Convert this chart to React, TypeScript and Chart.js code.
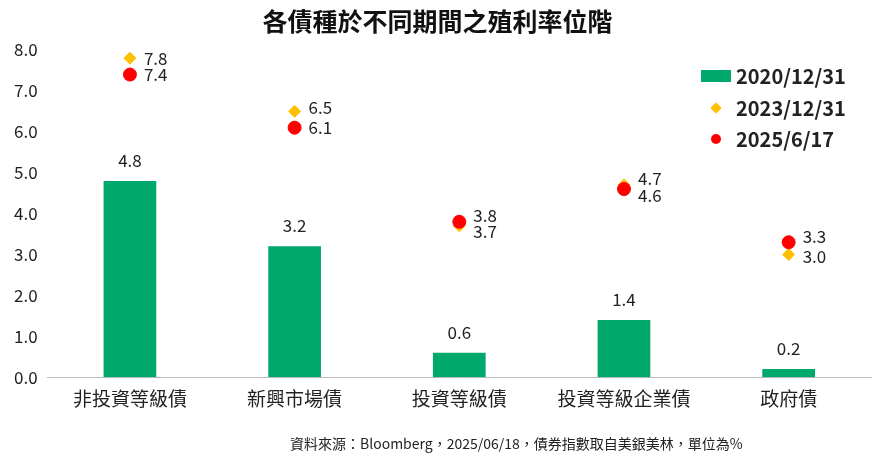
import React, { useEffect, useRef } from "react";
import { Chart, registerables } from "chart.js";
Chart.register(...registerables);

const categories = ["非投資等級債", "新興市場債", "投資等級債", "投資等級企業債", "政府債"];
const y2020 = [4.8, 3.2, 0.6, 1.4, 0.2];
const y2023 = [7.8, 6.5, 3.7, 4.7, 3.0];
const y2025 = [7.4, 6.1, 3.8, 4.6, 3.3];
// label vertical offsets (px) for point labels
const off2023 = [0, -4, 6, -6, 2];
const off2025 = [0, 0, -6, 6, -6];

const FONT = "'Noto Sans CJK TC', 'Noto Sans', sans-serif";

export default function App() {
  const ref = useRef<HTMLCanvasElement>(null);
  useEffect(() => {
    document.body.style.margin = "0";
    const labelPlugin = {
      id: "lbl",
      afterDatasetsDraw(chart: any) {
        const ctx = chart.ctx;
        ctx.save();
        ctx.fillStyle = "#222";
        ctx.font = `17px ${FONT}`;
        const m0 = chart.getDatasetMeta(0);
        m0.data.forEach((b: any, i: number) => {
          ctx.textAlign = "center";
          ctx.textBaseline = "bottom";
          ctx.fillText(y2020[i].toFixed(1), b.x, b.y - 12);
        });
        const draw = (di: number, vals: number[], offs: number[]) => {
          chart.getDatasetMeta(di).data.forEach((p: any, i: number) => {
            ctx.textAlign = "left";
            ctx.textBaseline = "middle";
            ctx.fillText(vals[i].toFixed(1), p.x + 14, p.y + offs[i]);
          });
        };
        draw(1, y2023, off2023);
        draw(2, y2025, off2025);
        ctx.restore();
      },
    };
    const c = new Chart(ref.current!, {
      type: "bar",
      data: {
        labels: categories,
        datasets: [
          { type: "bar", label: "2020/12/31", data: y2020, backgroundColor: "#00A86B", barPercentage: 0.32, categoryPercentage: 1, order: 3 },
          { type: "line", label: "2023/12/31", data: y2023, showLine: false, pointStyle: "rectRot", pointRadius: 6, backgroundColor: "#FFC000", borderColor: "#FFC000", order: 2 },
          { type: "line", label: "2025/6/17", data: y2025, showLine: false, pointStyle: "circle", pointRadius: 6.5, backgroundColor: "#FF0000", borderColor: "#FF0000", order: 1 },
        ] as any,
      },
      options: {
        animation: false,
        responsive: false,
        layout: { padding: { left: 4, right: 8, top: 0, bottom: 40 } },
        plugins: {
          legend: { display: false },
          tooltip: { enabled: false },
          title: { display: true, text: "各債種於不同期間之殖利率位階", font: { family: FONT, size: 25, weight: "bold" }, color: "#111", padding: { top: 6, bottom: 14 } },
        },
        scales: {
          x: {
            grid: { display: false, drawTicks: false },
            border: { color: "#bbb" },
            ticks: { font: { family: FONT, size: 19 }, color: "#222", padding: 10 },
          },
          y: {
            min: 0, max: 8,
            grid: { display: false, drawTicks: false },
            border: { display: false },
            ticks: { stepSize: 1, callback: (v: any) => Number(v).toFixed(1), font: { family: FONT, size: 17 }, color: "#222", padding: 10 },
          },
        },
      },
      plugins: [labelPlugin],
    });
    return () => c.destroy();
  }, []);
  const leg = (mark: React.ReactNode, text: string, top: number) => (
    <div style={{ position: "absolute", left: 700, top, display: "flex", alignItems: "center", fontFamily: FONT, fontSize: 20, fontWeight: "bold", color: "#222" }}>
      <div style={{ width: 32, display: "flex", justifyContent: "center" }}>{mark}</div>
      <span style={{ marginLeft: 4 }}>{text}</span>
    </div>
  );
  return (
    <div style={{ position: "relative", width: 879, height: 460, background: "#fff" }}>
      <canvas ref={ref} width={879} height={460} />
      {leg(<div style={{ width: 30, height: 12, background: "#00A86B" }} />, "2020/12/31", 61)}
      {leg(<div style={{ width: 8, height: 8, background: "#FFC000", transform: "rotate(45deg)" }} />, "2023/12/31", 93)}
      {leg(<div style={{ width: 10, height: 10, borderRadius: 5, background: "#FF0000" }} />, "2025/6/17", 124)}
      <div style={{ position: "absolute", left: 290, top: 433, fontFamily: FONT, fontSize: 14, color: "#222" }}>
        資料來源：Bloomberg，2025/06/18，債券指數取自美銀美林，單位為%
      </div>
    </div>
  );
}
